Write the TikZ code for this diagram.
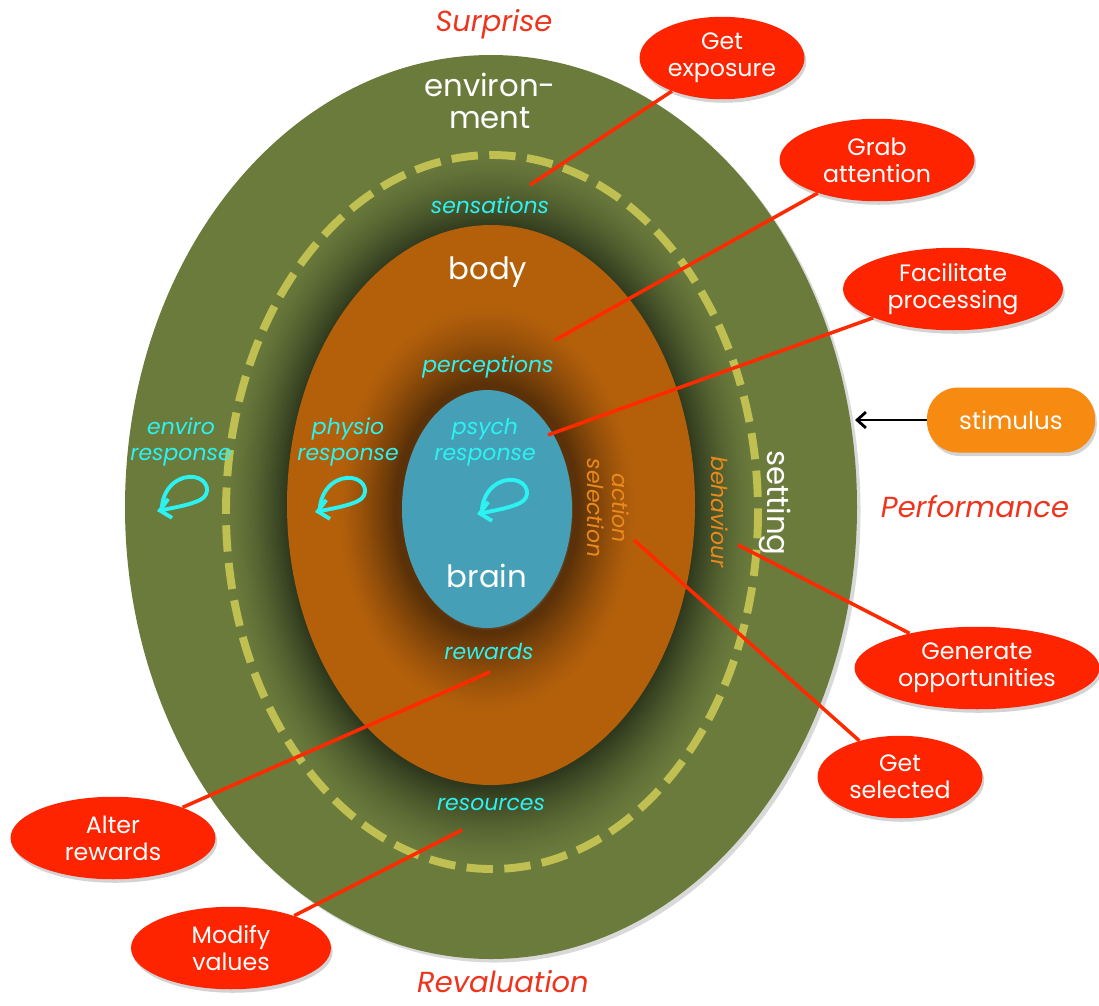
\documentclass[tikz,border=0pt]{standalone}
\usepackage{fontspec}
\setmainfont{Poppins}
\usetikzlibrary{arrows.meta,shadows,shapes.geometric}

\definecolor{envgreen}{HTML}{6B7B3C}
\definecolor{envdark}{HTML}{2E381D}
\definecolor{dashyellow}{HTML}{C0BF52}
\definecolor{bodyorange}{HTML}{B4600B}
\definecolor{bodydark}{HTML}{5A3108}
\definecolor{brainblue}{HTML}{45A0B7}
\definecolor{calloutred}{HTML}{FF2400}
\definecolor{linkred}{HTML}{FF2A00}
\definecolor{labelcyan}{HTML}{2CF2F2}
\definecolor{headred}{HTML}{F0331C}
\definecolor{stimorange}{HTML}{F78A10}
\definecolor{actionorange}{HTML}{EA8A1C}

\tikzset{
  headline/.style={text=headred, font=\itshape\fontsize{16.5}{19}\selectfont},
  ringname/.style={text=white, font=\fontsize{17.5}{20}\selectfont, align=center},
  cyanlabel/.style={text=labelcyan, font=\itshape\fontsize{12.5}{14.5}\selectfont, align=center},
  sidelabel/.style={text=actionorange, font=\itshape\fontsize{12.5}{14.5}\selectfont, align=center, rotate=-90},
  callout/.style={ellipse, fill=calloutred, text=white, align=center,
    font=\fontsize{13.5}{15.5}\selectfont, inner sep=0pt, minimum height=1.65cm,
    drop shadow={opacity=0.35, shadow xshift=1pt, shadow yshift=-2pt}},
  link/.style={linkred, line width=2pt},
  loopmark/.style={labelcyan, line width=2.2pt, line cap=round, -{Straight Barb[length=6pt,width=11pt]}},
}

\begin{document}
\begin{tikzpicture}[x=0.02cm, y=-0.02cm]
\useasboundingbox (0,0) rectangle (1099,1005);

% end points of the callout connectors inside the rings
\coordinate (pExposure) at (530,185);
\coordinate (pAttention) at (555,340);
\coordinate (pProcessing) at (548,435);
\coordinate (pOpportunities) at (738,545);
\coordinate (pSelected) at (634,540);
\coordinate (pRewards) at (490,672);
\coordinate (pValues) at (462,830);
\coordinate (pEdge) at (855,420);

% environment
\fill[envgreen, drop shadow={opacity=0.3, shadow xshift=2pt, shadow yshift=-2pt}]
  (491,507) ellipse [x radius=366, y radius=452];

% darkening band between the dashed boundary and the body
\foreach \i in {0,...,45}{
  \pgfmathsetmacro\rx{268-\i*64/45}
  \pgfmathsetmacro\ry{360-\i*80/45}
  \pgfmathsetmacro\p{100*(\i/45)^1.5}
  \fill[envdark!\p!envgreen] (491,508) ellipse [x radius=\rx, y radius=\ry];
}

% dashed boundary
\draw[dashyellow, line width=4.5pt, dash pattern=on 15pt off 6.5pt]
  (492,512) ellipse [x radius=266, y radius=357];

% body
\fill[bodyorange] (491,505) ellipse [x radius=204, y radius=280];

% darkening towards the brain
\foreach \i in {0,...,40}{
  \pgfmathsetmacro\rx{150-\i*58/40}
  \pgfmathsetmacro\ry{205-\i*80/40}
  \pgfmathsetmacro\p{100*(\i/40)^1.3}
  \fill[bodydark!\p!bodyorange] (487,509) ellipse [x radius=\rx, y radius=\ry];
}

% brain
\fill[brainblue, drop shadow={opacity=0.2, shadow xshift=0.5pt, shadow yshift=-1pt}]
  (487,509) ellipse [x radius=85, y radius=119];

% ring names
\node[ringname] (environment) at (490,101) {environ-\\[-2pt]ment};
\node[ringname] (body) at (488,272) {body};
\node[ringname] (brain) at (487,576) {brain};
\node[ringname, rotate=-90] (setting) at (775,503) {setting};

% labels inside the rings
\node[cyanlabel] (sensations) at (490,205) {sensations};
\node[cyanlabel] (perceptions) at (488,367) {perceptions};
\node[cyanlabel] (rewards) at (489,651) {rewards};
\node[cyanlabel] (resources) at (491,804) {resources};
\node[cyanlabel] (enviro) at (181,442) {enviro\\response};
\node[cyanlabel] (physio) at (348,442) {physio\\response};
\node[cyanlabel] (psych) at (485,442) {psych\\response};
\node[sidelabel] (action) at (608,508) {action\\selection};
\node[sidelabel] (behaviour) at (720,512) {behaviour};

% feedback loops
\foreach \cx/\cy in {182/494, 340/495, 502/497}{
  \begin{scope}[shift={(\cx,\cy)}]
    \draw[loopmark] (-20,12) .. controls (-18,-8) and (-2,-19) .. (12,-17)
      .. controls (26,-15) and (30,0) .. (18,6)
      .. controls (8,11) and (-10,14) .. (-25,17);
  \end{scope}
}

% outer headings
\node[headline] (surprise) at (494,24) {Surprise};
\node[headline] (performance) at (975,507) {Performance};
\node[headline] (revaluation) at (503,982) {Revaluation};

% callouts
\node[callout, minimum width=3.3cm] (exposure) at (722,58) {Get\\exposure};
\node[callout, minimum width=3.9cm] (attention) at (877,160) {Grab\\attention};
\node[callout, minimum width=4.4cm] (processing) at (953,289) {Facilitate\\processing};
\node[callout, minimum width=4.9cm] (opportunities) at (977,668) {Generate\\opportunities};
\node[callout, minimum width=3.3cm] (selected) at (900,777) {Get\\selected};
\node[callout, minimum width=4.1cm] (altrewards) at (113,838) {Alter\\rewards};
\node[callout, minimum width=4.0cm] (values) at (231,948) {Modify\\values};

\node[rectangle, rounded corners=0.62cm, fill=stimorange, text=white,
  minimum width=3.36cm, minimum height=1.3cm, font=\fontsize{14}{16}\selectfont,
  drop shadow={opacity=0.35, shadow xshift=1pt, shadow yshift=-2pt}]
  (stimulus) at (1011,420) {stimulus};

% connectors
\draw[link] (exposure) -- (pExposure);
\draw[link] (attention) -- (pAttention);
\draw[link] (processing) -- (pProcessing);
\draw[link] (opportunities) -- (pOpportunities);
\draw[link] (selected) -- (pSelected);
\draw[link] (altrewards) -- (pRewards);
\draw[link] (values) -- (pValues);
\draw[black, line width=1.6pt, -{Straight Barb[length=5pt,width=9pt]}] (stimulus) -- (pEdge);
\end{tikzpicture}
\end{document}
